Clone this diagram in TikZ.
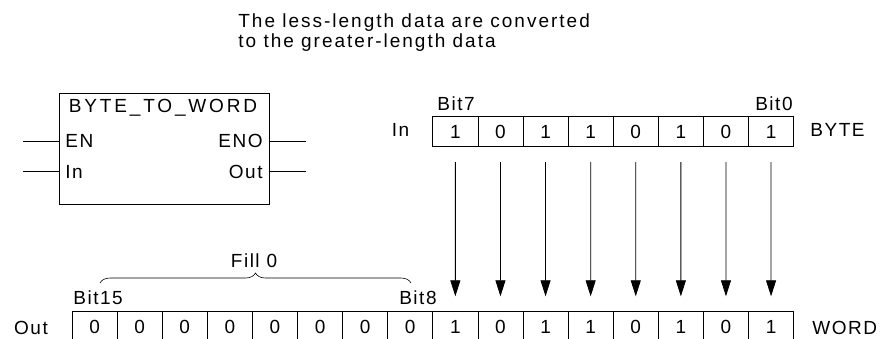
\documentclass[tikz,border=0pt]{standalone}
\usepackage{fontspec}
\setmainfont{Liberation Sans}[LetterSpace=8]
\newfontfamily\blockfont{Liberation Sans}[LetterSpace=15]
\newfontfamily\notefont{Liberation Sans}[LetterSpace=10.5]
\usetikzlibrary{arrows.meta,decorations.pathreplacing}

\begin{document}
\begin{tikzpicture}[x=1pt, y=-1pt, line width=0.8pt,
    txt/.style={inner sep=0pt, font=\fontsize{19}{20}\selectfont},
    cell/.style={txt, draw, minimum width=45.1pt, minimum height=30pt},
    flow/.style={-{Triangle[length=16pt,width=10pt]}, shorten <=15pt, shorten >=15pt}]
      \useasboundingbox (0,0) rectangle (882,338);

      % function block
      \node[draw, minimum width=210pt, minimum height=110.7pt, inner sep=0pt] (fb) at (164.3,148.65) {};
      \node[txt, font=\fontsize{19}{20}\blockfont] (name) at (163,108) {BYTE\_TO\_WORD};
      \node[txt, anchor=west] (en) at (65,141) {EN};
      \node[txt, anchor=west] (inp) at (65,172) {In};
      \node[txt, anchor=east] (eno) at (263,141) {ENO};
      \node[txt, anchor=east] (outp) at (263,172) {Out};

      \coordinate (enL) at (23,141.5);
      \coordinate (inL) at (23,171.7);
      \coordinate (enoR) at (306,141.5);
      \coordinate (outR) at (306,171.7);
      \draw (enL) -- (enL -| fb.west);
      \draw (inL) -- (inL -| fb.west);
      \draw (enoR -| fb.east) -- (enoR);
      \draw (outR -| fb.east) -- (outR);

      \node[txt, font=\fontsize{19}{20}\notefont, anchor=north west, align=left] (note) at (238,13)
        {The less-length data are converted\\to the greater-length data};

      % byte and word rows
      \foreach \v [count=\i from 0] in {1,0,1,1,0,1,0,1}
        \node[cell] (b\i) at ({455.35+45.1*\i},131.7) {\v};
      \foreach \v [count=\i from 0] in {0,0,0,0,0,0,0,0,1,0,1,1,0,1,0,1}
        \node[cell] (w\i) at ({94.55+45.1*\i},326.7) {\v};

      \foreach \i in {0,...,7} {
        \pgfmathtruncatemacro{\j}{\i+8}
        \draw[flow] (b\i) -- (w\j);
      }

      \node[txt, anchor=west] (bit7) at (437,104) {Bit7};
      \node[txt, anchor=east] (bit0) at (793,104) {Bit0};
      \node[txt] (inrow) at (400.5,130) {In};
      \node[txt, anchor=west] (byte) at (810,130) {BYTE};
      \node[txt, anchor=west] (bit15) at (73,297.5) {Bit15};
      \node[txt, anchor=east] (bit8) at (437,297.5) {Bit8};
      \node[txt] (outrow) at (31,327.5) {Out};
      \node[txt, anchor=west] (word) at (812,327.5) {WORD};

      % zero fill
      \coordinate (fillL) at (100,283);
      \coordinate (fillR) at (411,283);
      \draw[line width=0.6pt, decorate, decoration={brace, amplitude=10pt}] (fillL) -- (fillR);
      \node[txt] (fill) at (254,261) {Fill 0};
    \end{tikzpicture}
\end{document}
